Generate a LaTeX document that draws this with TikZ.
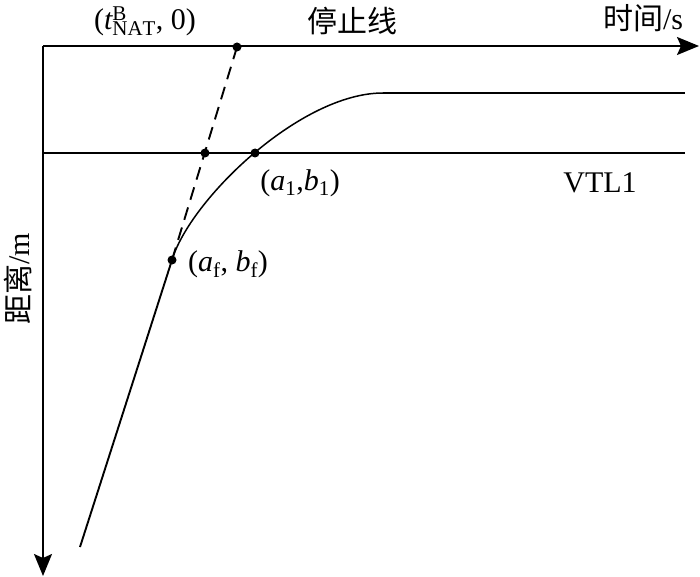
\documentclass[tikz,border=0pt]{standalone}
\usepackage{fontspec}
\setmainfont{Liberation Serif}
\newfontfamily\cjk{Noto Sans CJK SC}
\usetikzlibrary{arrows.meta}
\tikzset{
	dot/.style={circle, fill, inner sep=0pt, minimum size=9pt},
	lbl/.style={font=\fontsize{30}{36}\selectfont, inner sep=0pt},
	axis/.style={-{Stealth[length=22pt, width=18pt, inset=4pt]}}
}
\begin{document}
\begin{tikzpicture}[x=1pt, y=-1pt, line width=1.9pt]
	\useasboundingbox (0,0) rectangle (700,577);
	% axes
	\coordinate (O) at (43,46);
	\coordinate (tend) at (699,46);
	\coordinate (dend) at (43,576);
	\draw[axis] (O) -- (tend);
	\draw[axis] (O) -- (dend);
	% horizontal lines
	\coordinate (vtlL) at (43,153);
	\coordinate (vtlR) at (685,153);
	\draw (vtlL) -- (vtlR);
	\coordinate (crest) at (383,93);
	\coordinate (crestR) at (685,93);
	\draw (crest) -- (crestR);
	% trajectory
	\coordinate (start) at (80,547);
	\node[dot] (pf) at (172,260) {};
	\node[dot] (pNAT) at (237,47) {};
	\node[dot] (pD) at (205,153) {};
	\node[dot] (p1) at (255,153) {};
	\draw (start) -- (pf.center);
	\draw[dash pattern=on 13pt off 8pt] (pf.center) -- (pNAT.center);
	\draw[line width=1.5pt] (pf.center) .. controls (190,200) and (300,93) .. (crest);
	% labels
	\node[lbl] (tNAT) at (145,21) {($\mathit{t}^{\mathrm{B}}_{\mathrm{NAT}}$, 0)};
	\node[lbl] (stop) at (352,21) {\cjk 停止线};
	\node[lbl, anchor=east] (time) at (684,18) {\cjk 时间\rmfamily/s};
	\node[lbl] (vtl) at (600,183) {VTL1};
	\node[lbl] (a1) at (300,183) {(\textit{a}\textsubscript{1},\textit{b}\textsubscript{1})};
	\node[lbl] (af) at (228,264) {(\textit{a}\textsubscript{f}, \textit{b}\textsubscript{f})};
	\node[lbl, rotate=90] (dist) at (18,279) {\cjk 距离\rmfamily/m};
\end{tikzpicture}
\end{document}
